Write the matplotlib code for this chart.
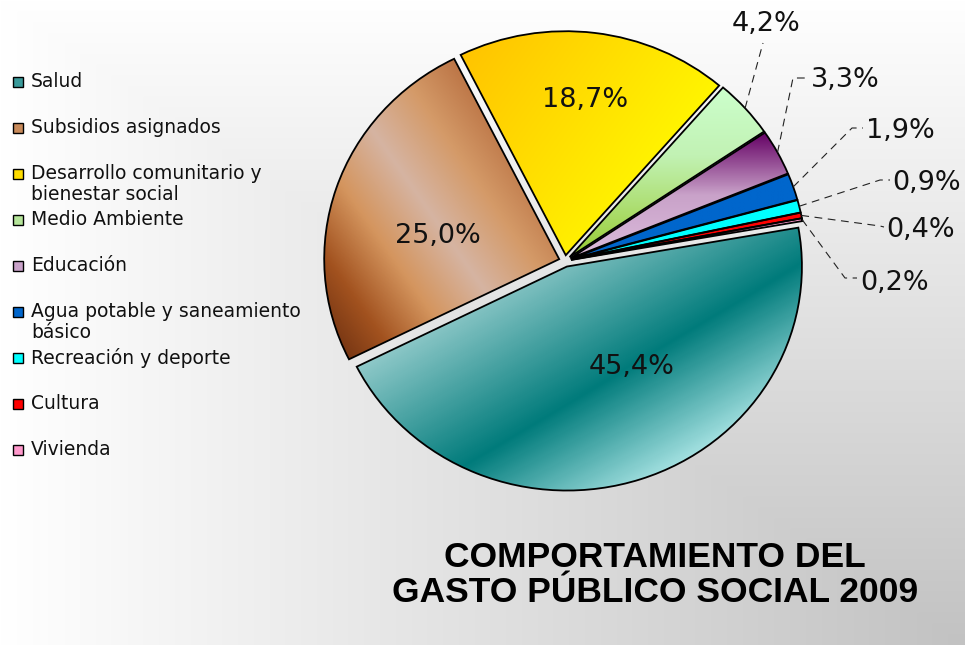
import numpy as np
import matplotlib
matplotlib.use('Agg')
import matplotlib.pyplot as plt
from matplotlib.colors import LinearSegmentedColormap
from matplotlib.patches import Rectangle

# datos
categorias = ['Salud', 'Subsidios asignados', 'Desarrollo comunitario y\nbienestar social',
              'Medio Ambiente', 'Educación', 'Agua potable y saneamiento\nbásico',
              'Recreación y deporte', 'Cultura', 'Vivienda']
porcentajes = [45.4, 25.0, 18.7, 4.2, 3.3, 1.9, 0.9, 0.4, 0.2]
titulo = 'COMPORTAMIENTO DEL\nGASTO PÚBLICO SOCIAL 2009'

# estilo de cada sector: (angulo del degradado, paradas de color)
rellenos = [
    (-59, [(0, '#8fc9c9'), (0.55, '#007b7b'), (1, '#ace6e6')]),
    (35, [(0, '#7a3814'), (0.15, '#a2521f'), (0.36, '#d4955e'), (0.58, '#d6b4a2'),
          (0.8, '#d49a68'), (1, '#bc7546')]),
    (-35, [(0, '#ffc400'), (1, '#fff500')]),
    (90, [(0, '#99cc33'), (0.6, '#c2f2b4'), (1, '#ccffcc')]),
    (90, [(0, '#dcbcdc'), (0.5, '#c9a2c9'), (1, '#640064')]),
    (0, [(0, '#0066cc'), (1, '#0066cc')]),
    (0, [(0, '#00ffff'), (1, '#00ffff')]),
    (0, [(0, '#ff0000'), (1, '#ff0000')]),
    (0, [(0, '#ff99cc'), (1, '#ff99cc')]),
]
color_leyenda = ['#3a9a9a', '#c88a5a', '#ffdd00', '#b5e59a', '#c9a2c9',
                 '#0066cc', '#00ffff', '#ff0000', '#ff99cc']

# geometria en pixeles de la imagen
W, H = 965, 645
CX, CY = 565, 261      # centro del pastel
SX, SY = 235, 224      # radio horizontal / vertical


def px(x, y):
    return (x - CX) / SX, (CY - y) / SY


fig = plt.figure(figsize=(W / 100, H / 100), dpi=100)
ax = fig.add_axes([0, 0, 1, 1])

x0, y1 = px(0, 0)
x1, y0 = px(W, H)

# fondo degradado (gris en la esquina inferior derecha)
u = np.linspace(0, 1, 400)
v = np.linspace(0, 1, 300)
U, V = np.meshgrid(u, v)
s = np.maximum(1 - U, 1 - V)
g = (194 + 61 * s) / 255
ax.imshow(np.dstack([g, g, g]), extent=(x0, x1, y0, y1), origin='upper',
          aspect='auto', zorder=0)

wedges, _ = ax.pie(porcentajes, startangle=10, counterclock=False,
                   explode=[0.026] * len(porcentajes), radius=1, center=(0, 0),
                   wedgeprops=dict(linewidth=1.3, edgecolor='black', facecolor='none'),
                   normalize=True)

for w, (ang, stops) in zip(wedges, rellenos):
    w.set_zorder(3)
    w.set_facecolor('none')
    cmap = LinearSegmentedColormap.from_list('c', stops)
    vert = w.get_path().vertices
    dx, dy = np.cos(np.radians(ang)), np.sin(np.radians(ang))
    proj = vert[:, 0] * SX * dx + vert[:, 1] * SY * dy
    pmin, pmax = proj.min(), proj.max()
    bx0, by0 = vert.min(axis=0)
    bx1, by1 = vert.max(axis=0)
    X, Y = np.meshgrid(np.linspace(bx0, bx1, 250), np.linspace(by0, by1, 250))
    P = (X * SX * dx + Y * SY * dy - pmin) / max(pmax - pmin, 1e-9)
    im = ax.imshow(P, cmap=cmap, vmin=0, vmax=1, extent=(bx0, bx1, by0, by1),
                   origin='lower', aspect='auto', zorder=2, interpolation='bilinear')
    im.set_clip_path(w)


def texto_pct(p):
    return f'{p:.1f}%'.replace('.', ',')


# etiquetas dentro de los sectores grandes
pos_dentro = [(632, 367), (438, 236), (585, 100)]
for p, (x, y) in zip(porcentajes[:3], pos_dentro):
    ax.text(*px(x, y), texto_pct(p), ha='center', va='center', fontsize=19.5,
            color='#111111', zorder=5)

# etiquetas fuera con lineas guia: (codo, fin de linea, texto, alineacion)
guias = [
    ((763, 43), (763, 43), (766, 24), 'center'),
    ((793, 78), (807, 78), (811, 80), 'left'),
    ((852, 128), (863, 128), (866, 131), 'left'),
    ((880, 180), (890, 180), (892, 183), 'left'),
    ((880, 226), (884, 227), (886, 230), 'left'),
    ((845, 278), (857, 278), (860, 283), 'left'),
]
for w, p, (codo, fin, tpos, ha) in zip(wedges[3:], porcentajes[3:], guias):
    a = np.radians((w.theta1 + w.theta2) / 2)
    cx, cy = w.center
    sx, sy = cx + w.r * np.cos(a), cy + w.r * np.sin(a)
    ex, ey = px(*codo)
    fx, fy = px(*fin)
    ax.plot([sx, ex, fx], [sy, ey, fy], color='#222222', lw=0.8,
            dashes=(7, 5), zorder=4)
    ax.text(*px(*tpos), texto_pct(p), ha=ha, va='center', fontsize=19.5,
            color='#111111', zorder=5)

ax.set_aspect('auto')
ax.set_xlim(x0, x1)
ax.set_ylim(y0, y1)
ax.axis('off')

# leyenda
for i, (cat, col) in enumerate(zip(categorias, color_leyenda)):
    y = 81.7 + 46 * i
    fig.patches.append(Rectangle((13 / W, 1 - (y + 5) / H), 10 / W, 10 / H,
                                 transform=fig.transFigure, facecolor=col,
                                 edgecolor='black', linewidth=1.0))
    for j, linea in enumerate(cat.split('\n')):
        fig.text(31 / W, 1 - (y + 20.5 * j) / H, linea, ha='left', va='center',
                 fontsize=13.5, color='#111111')

fig.text(655 / W, 1 - 575 / H, titulo, ha='center', va='center', fontsize=25.5,
         fontweight='bold', family='Liberation Sans', linespacing=1.08)

fig.savefig('out.png', dpi=100)
